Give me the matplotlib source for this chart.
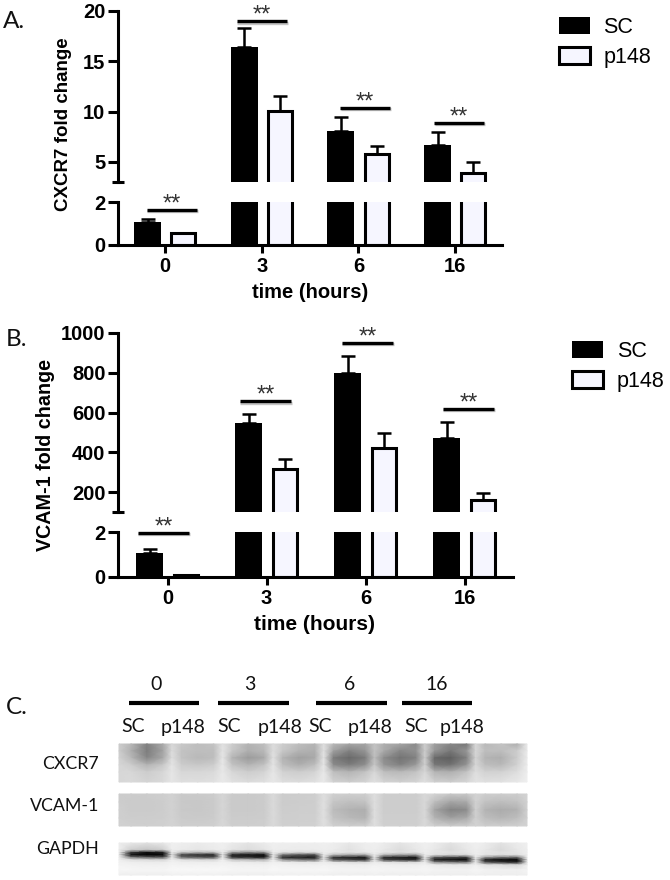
import numpy as np
import matplotlib
matplotlib.use('Agg')
import matplotlib.pyplot as plt
import matplotlib.patheffects as pe

# data
times = ['0', '3', '6', '16']

cxcr7_sc = [1.05, 16.4, 8.05, 6.7]
cxcr7_p148 = [0.55, 10.1, 5.75, 3.9]
cxcr7_sc_err = [0.18, 1.9, 1.45, 1.25]
cxcr7_p148_err = [0.02, 1.4, 0.8, 1.1]
cxcr7_sig = [1.65, 19.0, 10.4, 8.9]

vcam_sc = [1.07, 547, 800, 470]
vcam_p148 = [0.07, 316, 421, 160]
vcam_sc_err = [0.16, 45, 84, 84]
vcam_p148_err = [0.01, 50, 77, 36]
vcam_sig = [1.97, 658, 951, 619]

# blot grey levels, top to bottom: left edge, then band columns and gap for each lane
blot_cxcr7 = [
    [205, 185,130,170,215, 200,190,195,225, 205,180,190,220, 205,190,180,222, 185,165,165,195, 175,165,140,205, 160,135,120,215, 185,195,175,232],
    [205, 175,125,165,220, 195,190,190,228, 200,175,185,222, 200,180,175,225, 160,130,150,195, 170,135,145,205, 150,120,150,215, 190,190,205,234],
    [210, 185,135,170,222, 195,185,190,230, 180,155,170,225, 180,160,170,228, 125,105,125,190, 140,115,130,205, 105,95,130,212, 180,175,205,235],
    [215, 205,180,200,228, 205,200,205,232, 195,180,195,228, 190,175,190,230, 140,125,145,200, 150,130,155,208, 120,115,150,215, 190,185,210,236],
    [215, 215,205,215,230, 215,215,218,232, 215,205,212,230, 210,205,212,232, 190,180,195,215, 190,185,195,215, 180,175,195,222, 210,210,222,238],
    [215, 218,212,218,230, 222,222,225,234, 225,220,224,232, 222,220,224,234, 210,205,212,225, 212,208,212,224, 208,205,214,228, 224,226,232,240],
]
blot_vcam = [
    [205, 204,204,206,210, 202,202,204,214, 203,202,204,218, 204,205,206,222, 208,206,206,222, 206,205,205,216, 212,200,200,212, 206,205,205,212],
    [205, 203,203,205,210, 201,200,203,214, 202,202,204,218, 204,205,206,224, 198,192,195,222, 205,205,205,216, 190,165,170,210, 195,190,195,210],
    [207, 203,203,205,210, 201,200,203,214, 202,202,204,218, 205,206,206,224, 188,178,175,222, 205,205,205,216, 165,132,140,208, 180,172,178,208],
    [207, 205,205,206,210, 203,202,204,214, 204,204,205,218, 206,207,207,224, 195,185,180,222, 206,206,206,216, 180,160,170,208, 190,182,190,208],
    [210, 208,207,208,212, 206,206,207,216, 206,206,207,218, 208,208,208,224, 208,206,206,224, 208,208,208,218, 208,204,206,212, 206,206,208,212],
]
blot_gapdh = [
    [238, 232,225,232,240, 238,235,238,240, 235,228,235,240, 238,238,238,240, 238,232,238,240, 236,228,236,240, 236,226,236,240, 236,226,236,240],
    [238, 205,195,205,238, 235,230,235,238, 228,220,228,238, 236,235,236,238, 236,225,236,238, 232,220,232,238, 232,218,232,238, 232,218,232,238],
    [238, 60,15,35,232, 200,185,190,236, 160,140,150,236, 225,218,222,238, 232,228,232,238, 230,226,230,238, 230,226,230,238, 230,226,230,238],
    [236, 20,5,10,225, 70,50,40,232, 35,25,15,232, 120,90,80,236, 190,170,170,236, 185,165,160,236, 225,215,218,238, 228,222,225,238],
    [238, 130,100,90,232, 110,90,80,235, 50,45,25,232, 40,35,25,225, 50,35,25,228, 45,35,20,228, 90,70,60,232, 150,120,110,236],
    [240, 225,220,215,238, 225,220,215,240, 200,190,180,238, 150,120,110,230, 90,70,50,226, 70,50,40,226, 30,20,10,226, 30,10,5,226],
    [242, 238,236,236,242, 238,238,238,242, 236,235,232,240, 236,232,230,238, 230,222,218,236, 228,222,218,236, 150,130,120,232, 90,60,40,226],
    [244, 242,240,240,244, 242,242,242,244, 242,240,240,244, 242,240,240,242, 240,238,238,242, 240,238,238,242, 236,232,232,240, 226,222,215,238],
    [246, 246,245,245,248, 248,248,248,248, 246,245,245,248, 246,246,246,248, 245,244,244,246, 245,244,244,246, 243,242,242,246, 242,240,240,244],
    [238, 238,238,238,240, 240,240,240,240, 238,238,238,240, 240,240,240,240, 238,238,238,240, 238,238,238,240, 238,238,238,240, 238,238,238,240],
]
lane_labels = ['SC', 'p148'] * 4

W, H = 670, 880
ARIAL = 'Liberation Sans'
CALIBRI = 'Lato'
PALE = '#f6f6ff'
LW = 2.2  # 3 px
TEXT = '#111111'

fig = plt.figure(figsize=(W / 100, H / 100), dpi=100)


def px_axes(x0, y0, x1, y1):
    # axes from pixel box, y measured from top of the picture
    return fig.add_axes([x0 / W, 1 - y1 / H, (x1 - x0) / W, (y1 - y0) / H])


def draw_panel(x_left, x_right, x_tick0, y_top, y_break, y_low, y_zero, ylim, yticks,
               sc, p148, sc_err, p148_err, sig, sig_dx, ylabel, ylabel_size, ylabel_xy, xlabel_x, xlabel_size,
               legend_xy, unit=96.7):
    up = px_axes(x_left, y_top, x_right, y_break)
    lo = px_axes(x_left, y_low, x_right, y_zero)
    xpos = np.arange(len(times))
    xlim = ((x_left - x_tick0) / unit, (x_right - x_tick0) / unit)
    for ax in (up, lo):
        sc_bars = ax.bar(xpos - 0.18, sc, 27 / unit, color='black', edgecolor='black', linewidth=0)
        p_bars = ax.bar(xpos + 0.19, p148, 24 / unit, color=PALE, edgecolor='black', linewidth=LW)
        ax.errorbar(xpos - 0.18, sc, yerr=[np.zeros(4), sc_err], fmt='none', ecolor='black',
                    elinewidth=1.8, capsize=5, capthick=1.8)
        ax.errorbar(xpos + 0.19, p148, yerr=[np.zeros(4), p148_err], fmt='none', ecolor='black',
                    elinewidth=1.8, capsize=5, capthick=1.8)
        ax.set_xlim(xlim)
        ax.patch.set_alpha(0)
        for s in ['top', 'right']:
            ax.spines[s].set_visible(False)
        ax.spines['left'].set_linewidth(LW)
        ax.spines['bottom'].set_linewidth(LW)
        ax.tick_params(axis='y', length=7, width=LW, labelsize=14.5, pad=2)

    up.set_ylim(ylim)
    up.spines['bottom'].set_visible(False)
    up.set_xticks([])
    up.set_yticks(yticks)
    up.set_yticks([ylim[0]], minor=True)
    up.tick_params(axis='y', which='minor', direction='inout', length=8, width=LW)

    lo.set_ylim(0, 2)
    lo.set_yticks([0, 2])
    lo.set_yticks([2], minor=True)
    lo.tick_params(axis='y', which='minor', direction='in', length=3.6, width=LW)
    lo.set_xticks(xpos)
    lo.set_xticklabels(times)
    lo.tick_params(axis='x', length=6, width=LW, labelsize=14.5, pad=3)
    for ax in (up, lo):
        for t in ax.get_yticklabels() + ax.get_xticklabels():
            t.set_fontfamily(ARIAL)
            t.set_fontweight('bold')

    # significance bars, the one for 0 h sits in the lower part
    for i, (y, dx) in enumerate(zip(sig, sig_dx)):
        ax = lo if i == 0 else up
        ax.plot([i + dx - 0.26, i + dx + 0.26], [y, y], color='black', lw=2.4, solid_capstyle='butt', clip_on=False,
                path_effects=[pe.SimpleLineShadow(offset=(0.5, -1.2), shadow_color='gray', alpha=0.45), pe.Normal()])
        ax.annotate('**', (i + dx, y), xytext=(0, -4), textcoords='offset points', ha='center', va='bottom',
                    fontsize=17, family=ARIAL, color='#333333', annotation_clip=False)

    fig.text(ylabel_xy[0] / W, 1 - ylabel_xy[1] / H, ylabel, rotation=90, ha='center', va='center',
             family=ARIAL, weight='bold', fontsize=ylabel_size)
    fig.text(xlabel_x / W, 1 - (y_zero + 47) / H, 'time (hours)', ha='center', va='center',
             family=ARIAL, weight='bold', fontsize=xlabel_size)
    fig.legend([sc_bars, p_bars], ['SC', 'p148'], loc='upper left',
               bbox_to_anchor=(legend_xy[0] / W, 1 - legend_xy[1] / H),
               frameon=False, borderpad=0, borderaxespad=0, handlelength=1.45, handleheight=0.85,
               handletextpad=0.62, labelspacing=0.42, prop={'family': ARIAL, 'size': 15.5})
    return up, lo


draw_panel(118, 502, 165, 11, 182, 202, 245, (3, 20), [5, 10, 15, 20],
           cxcr7_sc, cxcr7_p148, cxcr7_sc_err, cxcr7_p148_err, cxcr7_sig, [0.07, 0.0, 0.07, 0.04],
           'CXCR7 fold change', 13.5, (64, 124), 310, 14.5, (559, 17))
draw_panel(118, 513, 167.5, 333, 512, 532, 577, (100, 1000), [200, 400, 600, 800, 1000],
           vcam_sc, vcam_p148, vcam_sc_err, vcam_p148_err, vcam_sig, [-0.04, -0.01, 0.02, 0.04],
           'VCAM-1 fold change', 14.2, (46, 455), 315, 15, (572, 341), unit=99)

# overlay in pixel coordinates for panel letters and the blot
ov = fig.add_axes([0, 0, 1, 1])
ov.patch.set_alpha(0)
for letter, x, y in [('A.', 3, 22), ('B.', 6, 340), ('C.', 6, 707)]:
    ov.text(x, y, letter, family=CALIBRI, fontsize=17.5, ha='left', va='center', color=TEXT)

# panel C
for lab, x0, x1, tx in zip(times, [129, 218, 316, 402], [199, 289, 387, 472], [156, 250, 350, 437]):
    ov.plot([x0, x1], [703, 703], color='black', lw=3, solid_capstyle='butt')
    ov.text(tx, 685, lab, family=CALIBRI, fontsize=14, ha='center', va='center', color=TEXT)
for lab, x in zip(lane_labels, [133, 183, 229, 280, 320, 370, 416, 462]):
    ov.text(x, 727, lab, family=CALIBRI, fontsize=14, ha='center', va='center', color=TEXT)

# columns: left edge, then start / middle / end of band and the gap after it, lane by lane
lane_x = [119.0]
for k in range(8):
    lane_x += [127 + 50.6 * k + d for d in (4, 20, 36, 45)]
lane_x[-1] = 527.0
for blot, lab, rows_y, ly in [(blot_cxcr7, 'CXCR7', [744, 751, 758, 765, 772, 782], 764),
                              (blot_vcam, 'VCAM-1', [794, 802, 810, 818, 826], 806),
                              (blot_gapdh, 'GAPDH', [843, 850, 852.5, 855, 857.5, 860, 862.5, 865, 870, 875], 849)]:
    ov.pcolormesh(lane_x, rows_y, np.array(blot), shading='gouraud', cmap='gray', vmin=0, vmax=255)
    ov.text(99, ly, lab, family=CALIBRI, fontsize=12.8, ha='right', va='center', color=TEXT)

ov.set_xlim(0, W)
ov.set_ylim(H, 0)
ov.axis('off')

fig.savefig('out.png', dpi=100)
